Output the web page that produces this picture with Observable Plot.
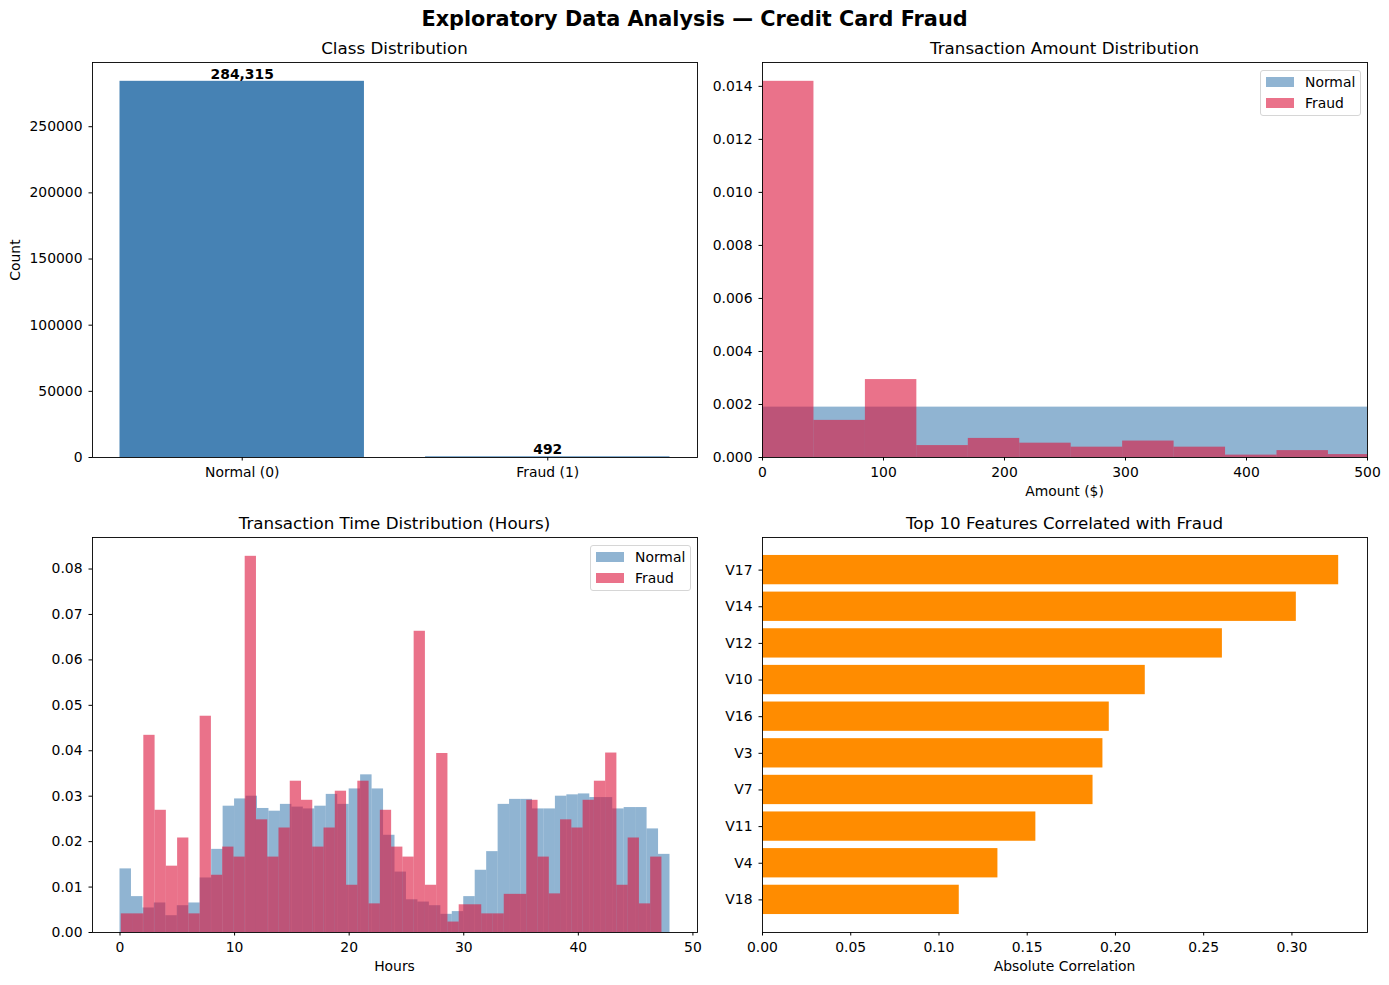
<!DOCTYPE html>
<html>
<head>
<meta charset="utf-8">
<script src="https://cdn.jsdelivr.net/npm/d3@7"></script>
<script src="https://cdn.jsdelivr.net/npm/@observablehq/plot@0.6"></script>
<style>
  html, body { margin: 0; padding: 0; background: #ffffff; }
  #fig { position: relative; width: 1389px; height: 985px; background: #ffffff; font-family: "DejaVu Sans", sans-serif; color: #000; overflow: hidden; }
  .t { position: absolute; transform: translate(-50%, -50%); white-space: nowrap; line-height: 1; }
  .legend { position: absolute; border: 1px solid #d6d6d6; border-radius: 3px; background: rgba(255,255,255,0.8); box-sizing: border-box; font-size: 13.9px; }
  .legend .row { position: absolute; left: 0; display: flex; align-items: center; height: 14px; }
  .legend .sw { display: inline-block; width: 28px; height: 10px; margin-left: 5px; margin-right: 11px; }
</style>
</head>
<body>
<div id="fig"></div>
<script>
// ---------------- data ----------------
const classLabels = ["Normal (0)", "Fraud (1)"];
const classCounts = [284315, 492];
const classTicks = [0, 50000, 100000, 150000, 200000, 250000];

const amountNormalDensity = [0.00190];
const amountNormalBinWidth = 514.2;
const amountFraudDensity = [0.01419, 0.00140, 0.00294, 0.00045, 0.00072, 0.00054, 0.00039, 0.00062, 0.00039, 0.00009, 0.00026, 0.00011];
const amountFraudBinWidth = 42.52;
const amountTicks = [0, 100, 200, 300, 400, 500];
const amountDensityTicks = [0, 0.002, 0.004, 0.006, 0.008, 0.010, 0.012, 0.014];

const timeNormalStart = 0;
const timeNormalBinWidth = 1.0;
const timeNormalDensity = [0.0140, 0.0079, 0.0054, 0.0065, 0.0037, 0.0059, 0.0065, 0.0120, 0.0183, 0.0278,
  0.0294, 0.0300, 0.0273, 0.0267, 0.0282, 0.0276, 0.0272, 0.0278, 0.0304, 0.0282,
  0.0316, 0.0347, 0.0316, 0.0214, 0.0133, 0.0072, 0.0067, 0.0059, 0.0040, 0.0046,
  0.0079, 0.0137, 0.0178, 0.0282, 0.0293, 0.0293, 0.0272, 0.0272, 0.0300, 0.0303,
  0.0305, 0.0297, 0.0297, 0.0272, 0.0275, 0.0275, 0.0228, 0.0172];
const timeFraudStart = 0.113;
const timeFraudBinWidth = 0.983;
const timeFraudDensity = [0.0041, 0.0041, 0.0434, 0.0269, 0.0146, 0.0208, 0.0041, 0.0476, 0.0126, 0.0188,
  0.0166, 0.0828, 0.0248, 0.0166, 0.0230, 0.0333, 0.0291, 0.0188, 0.0230, 0.0311,
  0.0104, 0.0333, 0.0063, 0.0269, 0.0188, 0.0166, 0.0663, 0.0104, 0.0394, 0.0023,
  0.0061, 0.0061, 0.0041, 0.0041, 0.0084, 0.0084, 0.0291, 0.0166, 0.0085, 0.0248,
  0.0230, 0.0291, 0.0333, 0.0395, 0.0104, 0.0208, 0.0063, 0.0166];
const timeTicks = [0, 10, 20, 30, 40, 50];
const timeDensityTicks = [0, 0.01, 0.02, 0.03, 0.04, 0.05, 0.06, 0.07, 0.08];
const timeRangeHours = [0, 48];

const features = ["V17", "V14", "V12", "V10", "V16", "V3", "V7", "V11", "V4", "V18"];
const correlations = [0.3265, 0.3025, 0.2606, 0.2169, 0.1965, 0.1929, 0.1873, 0.1549, 0.1334, 0.1115];
const corrTicks = [0, 0.05, 0.10, 0.15, 0.20, 0.25, 0.30];

// ---------------- helpers ----------------
const NORMAL_COLOR = "steelblue";
const FRAUD_COLOR = "crimson";
const fig = document.getElementById("fig");
const M = {left: 80, right: 12, top: 10, bottom: 34};
const AX_W = 605, AX_H = 395;
const baseStyle = {fontFamily: "DejaVu Sans", fontSize: "13.9px", background: "transparent", overflow: "visible", color: "#000"};

function place(plot, axLeft, axTop) {
  plot.style.position = "absolute";
  plot.style.left = (axLeft - M.left) + "px";
  plot.style.top = (axTop - M.top) + "px";
  plot.style.maxWidth = "none";
  fig.appendChild(plot);
}
function text(str, cx, cy, size, extra = "") {
  const d = document.createElement("div");
  d.className = "t";
  d.textContent = str;
  d.style.left = cx + "px";
  d.style.top = cy + "px";
  d.style.fontSize = size + "px";
  d.style.cssText += extra;
  fig.appendChild(d);
  return d;
}
function legend(left, top) {
  const L = document.createElement("div");
  L.className = "legend";
  L.style.left = left + "px"; L.style.top = top + "px";
  L.style.width = "101px"; L.style.height = "46px";
  [["Normal", NORMAL_COLOR, 4], ["Fraud", FRAUD_COLOR, 25]].forEach(([lab, col, y]) => {
    const r = document.createElement("div");
    r.className = "row"; r.style.top = y + "px";
    const sw = document.createElement("span");
    sw.className = "sw"; sw.style.background = col; sw.style.opacity = 0.6;
    const tx = document.createElement("span"); tx.textContent = lab;
    r.appendChild(sw); r.appendChild(tx); L.appendChild(r);
  });
  fig.appendChild(L);
}
const common = {width: AX_W + M.left + M.right, height: AX_H + M.top + M.bottom,
  marginLeft: M.left, marginRight: M.right, marginTop: M.top, marginBottom: M.bottom, style: baseStyle};
const axX = {tickSize: 3.5, tickPadding: 6, label: null};
const axY = {tickSize: 3.5, tickPadding: 6.5, label: null};

// ---------------- 1. Class distribution ----------------
const classData = classLabels.map((label, i) => ({label, count: classCounts[i]}));
place(Plot.plot({
  ...common,
  x: {domain: classLabels, paddingInner: 0.2, paddingOuter: 0.09, align: 0.5, round: false},
  y: {domain: [0, d3.max(classCounts) * 1.05]},
  marks: [
    Plot.barY(classData, {x: "label", y: "count", fill: NORMAL_COLOR}),
    Plot.text(classData, {x: "label", y: "count", text: d => d3.format(",")(d.count), dy: -7, fontWeight: "bold", fontSize: 13.9}),
    Plot.axisX({...axX}),
    Plot.axisY({...axY, ticks: classTicks, tickFormat: d => String(d)}),
    Plot.frame({stroke: "#000", strokeWidth: 0.9})
  ]
}), 92, 62);

// ---------------- 2. Amount distribution ----------------
const amountNormal = amountNormalDensity.map((v, i) => ({x1: i * amountNormalBinWidth, x2: (i + 1) * amountNormalBinWidth, y: v}));
const amountFraud = amountFraudDensity.map((v, i) => ({x1: i * amountFraudBinWidth, x2: (i + 1) * amountFraudBinWidth, y: v}));
place(Plot.plot({
  ...common,
  x: {domain: [0, 500]},
  y: {domain: [0, d3.max(amountFraudDensity) * 1.05]},
  marks: [
    Plot.rectY(amountNormal, {x1: "x1", x2: "x2", y: "y", fill: NORMAL_COLOR, fillOpacity: 0.6, clip: true}),
    Plot.rectY(amountFraud, {x1: "x1", x2: "x2", y: "y", fill: FRAUD_COLOR, fillOpacity: 0.6, clip: true}),
    Plot.axisX({...axX, ticks: amountTicks, tickFormat: d => String(d)}),
    Plot.axisY({...axY, ticks: amountDensityTicks, tickFormat: d3.format(".3f")}),
    Plot.frame({stroke: "#000", strokeWidth: 0.9})
  ]
}), 762, 62);

// ---------------- 3. Time distribution ----------------
const timeNormal = timeNormalDensity.map((v, i) => ({x1: timeNormalStart + i * timeNormalBinWidth, x2: timeNormalStart + (i + 1) * timeNormalBinWidth, y: v}));
const timeFraud = timeFraudDensity.map((v, i) => ({x1: timeFraudStart + i * timeFraudBinWidth, x2: timeFraudStart + (i + 1) * timeFraudBinWidth, y: v}));
const tSpan = timeRangeHours[1] - timeRangeHours[0];
place(Plot.plot({
  ...common,
  x: {domain: [timeRangeHours[0] - 0.05 * tSpan, timeRangeHours[1] + 0.05 * tSpan]},
  y: {domain: [0, d3.max(timeFraudDensity) * 1.05]},
  marks: [
    Plot.rectY(timeNormal, {x1: "x1", x2: "x2", y: "y", fill: NORMAL_COLOR, fillOpacity: 0.6}),
    Plot.rectY(timeFraud, {x1: "x1", x2: "x2", y: "y", fill: FRAUD_COLOR, fillOpacity: 0.6}),
    Plot.axisX({...axX, ticks: timeTicks, tickFormat: d => String(d)}),
    Plot.axisY({...axY, ticks: timeDensityTicks, tickFormat: d3.format(".2f")}),
    Plot.frame({stroke: "#000", strokeWidth: 0.9})
  ]
}), 92, 537);

// ---------------- 4. Correlations ----------------
const corrData = features.map((f, i) => ({feature: f, corr: correlations[i]}));
place(Plot.plot({
  ...common,
  x: {domain: [0, d3.max(correlations) * 1.05]},
  y: {domain: features, paddingInner: 0.2, paddingOuter: 0.49, align: 0.5, round: false},
  marks: [
    Plot.barX(corrData, {y: "feature", x: "corr", fill: "darkorange"}),
    Plot.axisX({...axX, ticks: corrTicks, tickFormat: d3.format(".2f")}),
    Plot.axisY({...axY}),
    Plot.frame({stroke: "#000", strokeWidth: 0.9})
  ]
}), 762, 537);

// ---------------- texts ----------------
text("Exploratory Data Analysis \u2014 Credit Card Fraud", 694.5, 19, 20.8, "font-weight:bold;");
text("Class Distribution", 394.5, 48, 16.7);
text("Transaction Amount Distribution", 1064.5, 48, 16.7);
text("Transaction Time Distribution (Hours)", 394.5, 523, 16.7);
text("Top 10 Features Correlated with Fraud", 1064.5, 523, 16.7);
text("Count", 16, 260, 13.9, "transform: translate(-50%,-50%) rotate(-90deg);");
text("Amount ($)", 1064.5, 492, 13.9);
text("Hours", 394.5, 967, 13.9);
text("Absolute Correlation", 1064.5, 967, 13.9);
legend(1260, 70);
legend(590, 545);
</script>
</body>
</html>
